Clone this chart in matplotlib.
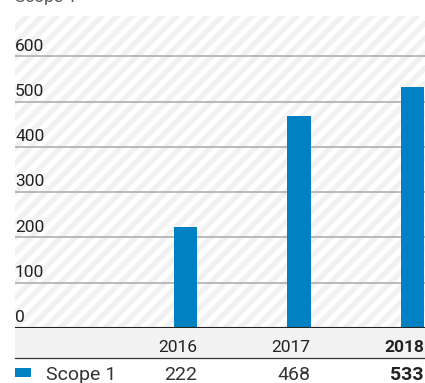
import matplotlib
matplotlib.use("Agg")
import matplotlib.pyplot as plt
from matplotlib.patches import Rectangle

# data
years = ["2016", "2017", "2018"]
scope1 = [222, 468, 533]
series_name = "Scope 1"
y_ticks = [0, 100, 200, 300, 400, 500, 600]

BLUE = "#0081c4"
TXT = "#222222"

plt.rcParams["font.family"] = ["Roboto", "DejaVu Sans"]

W, H = 425, 383
fig = plt.figure(figsize=(W / 100, H / 100), dpi=100)
# axes in pixel coords: x 15..425, y 16..328
ax = fig.add_axes([15 / W, 1 - 328 / H, 410 / W, 312 / H])
ax.set_xlim(-1.502, 2.11)
ax.set_ylim(0, 689)
ax.axis("off")

# striped background, diagonal stripes every 15 px (drawn in inches)
bg = Rectangle((0, 0), 1, 1, transform=ax.transAxes, facecolor="white",
               edgecolor="none", zorder=0)
ax.add_patch(bg)
step = 0.15
c = -3.5
while c < 4.3:
    ln, = ax.plot([0, 4.5], [c, c + 4.5], transform=fig.dpi_scale_trans,
                  color="#f1f1f1", lw=3.8, zorder=0.5, solid_capstyle="butt")
    ln.set_clip_path(bg)
    c += step

for v in y_ticks:
    if v == 0:
        ax.axhline(v, color=TXT, lw=1.5, zorder=3)
    else:
        ax.axhline(v, color="#a8a8a8", lw=1.1, zorder=1)
    ax.text(0, v + 6, str(v), transform=ax.get_yaxis_transform(),
            ha="left", va="bottom", fontsize=12.5, color=TXT, zorder=4)

x = list(range(len(years)))
bw = 0.203
ax.bar(x, scope1, width=bw, color=BLUE, zorder=2)

# table below the chart
xt = ax.get_xaxis_transform()
band_h = 30 / 312
ax.add_patch(Rectangle((0, -band_h), 1, band_h, transform=ax.transAxes,
                       facecolor="#f2f2f2", edgecolor="none", clip_on=False, zorder=1))
ax.plot([0, 1], [-band_h, -band_h], transform=ax.transAxes, color="#333333",
        lw=0.9, clip_on=False, zorder=3)

for i, (yr, val) in enumerate(zip(years, scope1)):
    bold = "bold" if i == len(years) - 1 else "normal"
    ax.text(i + bw / 2, -24 / 312, yr, transform=xt, ha="right", va="baseline",
            fontsize=12.5, color=TXT, fontweight=bold, clip_on=False)
    ax.text(i + bw / 2, -52 / 312, str(val), transform=xt, ha="right", va="baseline",
            fontsize=14, color=TXT if bold == "bold" else "#333333",
            fontweight=bold, clip_on=False)

# legend marker + series name
fig.patches.append(Rectangle((15 / W, 1 - 377 / H), 16 / W, 9 / H,
                             transform=fig.transFigure, facecolor=BLUE,
                             edgecolor="none"))
fig.text(46 / W, 1 - 380 / H, series_name, ha="left", va="baseline",
         fontsize=14, color="#333333")

# chart title, mostly cut off at the top edge
fig.text(15 / W, 1 - 2 / H, series_name, ha="left", va="baseline",
         fontsize=12.5, color="#555555")

fig.savefig("out.png", dpi=100)
